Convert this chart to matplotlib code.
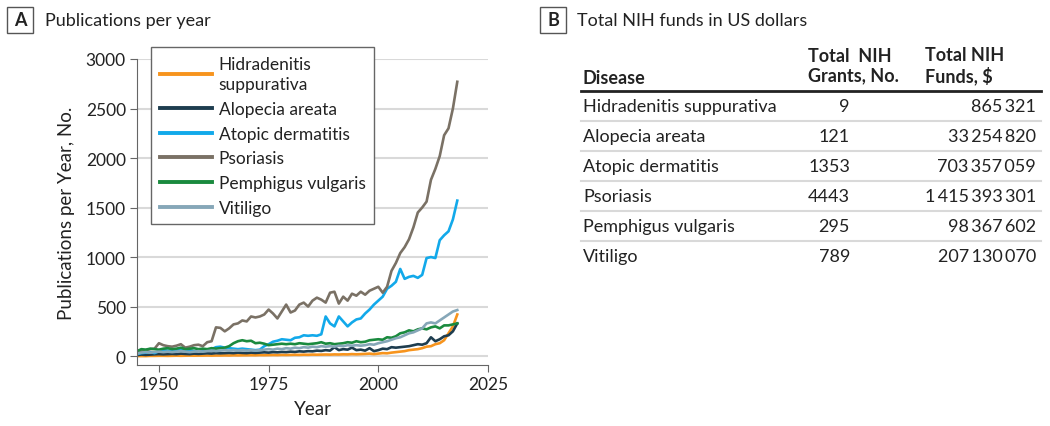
import matplotlib.pyplot as plt
import numpy as np
from matplotlib.lines import Line2D
from matplotlib.patches import Rectangle

plt.rcParams['font.family'] = ['Lato', 'DejaVu Sans']

years = np.arange(1945, 2019)

hidradenitis = [0, 0, 0, 2, 2, 3, 3, 2, 3, 4, 3, 4, 5, 4, 5, 5, 6, 5, 6, 6,
                7, 6, 8, 7, 8, 8, 9, 8, 10, 9, 10, 11, 10, 12, 11, 12, 13, 12, 14, 13,
                15, 14, 15, 16, 15, 17, 16, 18, 17, 20, 18,
                20, 22, 25, 20, 25, 30, 28, 35, 40, 45, 50, 60, 65, 70, 80, 95, 100,
                120, 130, 160, 230, 300, 420]
alopecia = [10, 15, 12, 15, 18, 20, 18, 20, 22, 20, 25, 22, 20, 25, 22, 25, 28, 25, 30, 28,
            30, 32, 30, 35, 32, 30, 35, 32, 35, 38, 35, 40, 38, 42, 40, 45, 42, 48, 45, 50,
            48, 55, 52, 60, 55, 90, 60, 70, 65, 85, 60, 65, 55, 80, 50, 60, 75, 70, 90, 85,
            90, 95, 100, 110, 120, 115, 130, 190, 150, 170, 200, 210, 250, 330]
atopic = [20, 30, 35, 40, 30, 50, 60, 55, 50, 60, 65, 55, 60, 50, 55, 60, 55, 70, 90, 95,
          85, 80, 75, 70, 75, 70, 65, 60, 65, 100, 120, 145, 155, 170, 165, 160, 185, 190, 210, 205,
          210, 205, 220, 400, 330, 300, 400, 350, 300, 340, 370, 380, 430, 470, 520, 560, 600, 680, 710, 750,
          880, 780, 800, 810, 790, 820, 990, 1000, 990, 1170, 1220, 1260, 1380, 1570]
psoriasis = [40, 55, 60, 70, 75, 130, 110, 100, 95, 105, 120, 85, 95, 110, 115, 100, 140, 150, 290, 285,
             250, 280, 320, 330, 360, 350, 400, 390, 400, 420, 470, 430, 380, 450, 520, 440, 460, 520, 540, 500,
             560, 590, 570, 540, 640, 650, 530, 600, 560, 630, 610, 650, 620, 660, 680, 700, 640, 700, 860, 940,
             1040, 1100, 1180, 1300, 1450, 1500, 1560, 1780, 1890, 2020, 2230, 2300, 2500, 2770]
pemphigus = [50, 70, 65, 75, 70, 65, 75, 80, 70, 75, 85, 70, 75, 80, 70, 75, 70, 80, 75, 80,
             85, 100, 130, 150, 160, 150, 155, 130, 135, 125, 110, 115, 120, 125, 120, 125, 120, 130, 125, 120,
             125, 130, 140, 125, 130, 120, 125, 130, 140, 135, 150, 140, 145, 160, 165, 170, 165, 190, 185, 200,
             230, 240, 260, 250, 270, 280, 270, 290, 300, 280, 310, 310, 320, 330]
vitiligo = [25, 35, 40, 35, 40, 45, 40, 45, 40, 45, 50, 45, 40, 45, 50, 45, 50, 55, 50, 55,
            60, 55, 60, 55, 60, 55, 60, 55, 60, 65, 70, 65, 75, 70, 80, 75, 85, 80, 90, 85,
            95, 90, 100, 95, 100, 95, 105, 100, 110, 105, 110, 105, 110, 120, 115, 130, 140, 150, 165, 180,
            190, 210, 230, 240, 260, 280, 330, 340, 330, 360, 390, 420, 450, 465]

series = [
    ("Hidradenitis\nsuppurativa", hidradenitis, "#F7941D"),
    ("Alopecia areata", alopecia, "#1E3D4F"),
    ("Atopic dermatitis", atopic, "#12A9EA"),
    ("Psoriasis", psoriasis, "#7A7165"),
    ("Pemphigus vulgaris", pemphigus, "#1A8A3E"),
    ("Vitiligo", vitiligo, "#86A7B8"),
]

diseases = ["Hidradenitis suppurativa", "Alopecia areata", "Atopic dermatitis",
            "Psoriasis", "Pemphigus vulgaris", "Vitiligo"]
grants = ["9", "121", "1353", "4443", "295", "789"]
funds = ["865\u2009321", "33\u2009254\u2009820", "703\u2009357\u2009059",
         "1\u2009415\u2009393\u2009301", "98\u2009367\u2009602", "207\u2009130\u2009070"]

W, H = 1050, 427
fig = plt.figure(figsize=(10.5, 4.27), dpi=100)

def fx(px):
    return px / W

def fy(py):
    return 1 - py / H

txt = '#222222'

# ~~~~~ panel A ~~~~~
ax = fig.add_axes([fx(137), fy(366), fx(488) - fx(137), fy(60) - fy(366)])
for name, vals, col in series:
    ax.plot(years, vals, color=col, lw=1.9, label=name)
ax.set_xlim(1945, 2025)
ax.set_ylim(-90, 3000)
ax.set_xticks([1950, 1975, 2000, 2025])
ax.set_yticks(np.arange(0, 3001, 500))
ax.yaxis.grid(True, color='#d9d9d9', lw=1.5)
ax.set_axisbelow(True)
for s in ['top', 'right']:
    ax.spines[s].set_visible(False)
for s in ['left', 'bottom']:
    ax.spines[s].set_color('#666666')
ax.tick_params(colors='#666666', labelcolor=txt, labelsize=12.5, length=5, pad=3)
ax.set_xlabel("Year", fontsize=13.5, color=txt, labelpad=6)
ax.set_ylabel("Publications per Year, No.", fontsize=13.5, color=txt, labelpad=8)

leg = fig.legend(loc='upper left', bbox_to_anchor=(fx(151), fy(48)), fontsize=12.5,
                 frameon=True, fancybox=False, edgecolor='#666666', framealpha=1,
                 handlelength=3.0, handletextpad=0.4, labelspacing=0.5,
                 borderpad=0.5, borderaxespad=0, labelcolor=txt)
leg.get_frame().set_linewidth(1)
for t in leg.get_texts():
    t.set_linespacing(1.35)
for h in leg.get_lines():
    h.set_linewidth(2.8)

fig.patches.append(Rectangle((fx(7), fy(34)), fx(26), fy(8) - fy(34), transform=fig.transFigure,
                             fill=False, edgecolor='#555555', lw=1))
fig.text(fx(20), fy(21), "A", ha='center', va='center', fontsize=13, fontweight='bold', color=txt)
fig.text(fx(45), fy(21), "Publications per year", ha='left', va='center', fontsize=13, color=txt)

# ~~~~~ panel B ~~~~~
fig.patches.append(Rectangle((fx(540), fy(34)), fx(26), fy(8) - fy(34), transform=fig.transFigure,
                             fill=False, edgecolor='#555555', lw=1))
fig.text(fx(553), fy(21), "B", ha='center', va='center', fontsize=13, fontweight='bold', color=txt)
fig.text(fx(577), fy(21), "Total NIH funds in US dollars", ha='left', va='center', fontsize=13, color=txt)

fig.text(fx(583), fy(78), "Disease", ha='left', va='center', fontsize=13, fontweight='bold', color=txt)
fig.text(fx(808), fy(66), "Total  NIH\nGrants, No.", ha='left', va='center', fontsize=13,
         fontweight='bold', color=txt, linespacing=1.15)
fig.text(fx(925), fy(66), "Total NIH\nFunds, $", ha='left', va='center', fontsize=13,
         fontweight='bold', color=txt, linespacing=1.15)
fig.add_artist(Line2D([fx(581), fx(1041)], [fy(92), fy(92)], color='#222222', lw=2))

row_h = 30
for i, (d, g, f) in enumerate(zip(diseases, grants, funds)):
    yc = 107 + i * row_h
    fig.text(fx(583), fy(yc), d, ha='left', va='center', fontsize=13, color=txt)
    fig.text(fx(850), fy(yc), g, ha='right', va='center', fontsize=13, color=txt)
    fig.text(fx(1036), fy(yc), f, ha='right', va='center', fontsize=13, color=txt)
    if i < len(diseases) - 1:
        fig.add_artist(Line2D([fx(581), fx(1041)], [fy(yc + 15), fy(yc + 15)], color='#d9d9d9', lw=1.5))

fig.savefig("out.png", dpi=100)
